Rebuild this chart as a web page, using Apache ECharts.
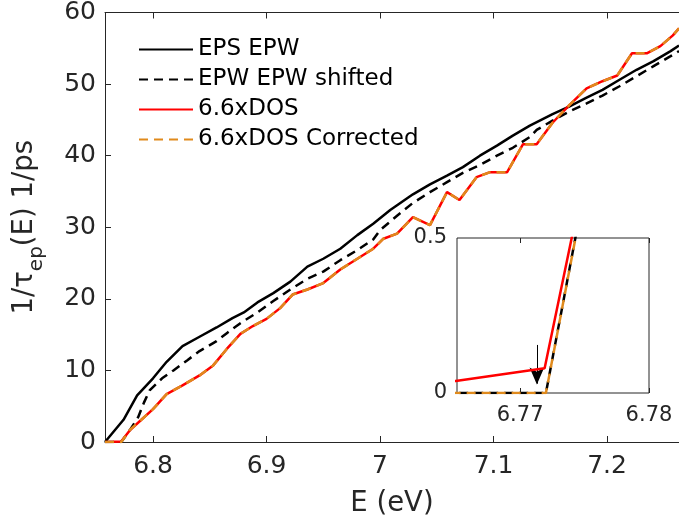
<!DOCTYPE html>
<html>
<head>
<meta charset="utf-8">
<title>Electron-phonon scattering rate</title>
<script src="https://cdn.jsdelivr.net/npm/echarts@6/dist/echarts.min.js"></script>
<style>
  html, body { margin: 0; padding: 0; background: #fff; }
  #chart { width: 679px; height: 525px; }
</style>
</head>
<body>
<div id="chart"></div>
<script>
// Scattering rate 1/tau_ep(E) in 1/ps against electron energy E in eV

// EPS EPW (solid black)
const epsEnergy = [6.7577, 6.774, 6.786, 6.800, 6.812, 6.826, 6.841, 6.856, 6.870, 6.880,
  6.892, 6.906, 6.921, 6.936, 6.950, 6.965, 6.980, 6.994, 7.009, 7.029, 7.044, 7.059,
  7.073, 7.088, 7.103, 7.117, 7.132, 7.152, 7.167, 7.182, 7.196, 7.211, 7.226, 7.241,
  7.256, 7.2634];
const epsRate = [0, 3.1, 6.5, 8.9, 11.2, 13.4, 14.7, 16.0, 17.3, 18.1,
  19.5, 20.8, 22.4, 24.5, 25.6, 27.0, 28.9, 30.5, 32.4, 34.6, 36.0, 37.2,
  38.4, 40.0, 41.4, 42.8, 44.2, 45.8, 46.9, 48.1, 49.2, 50.6, 52.0, 53.2,
  54.6, 55.4];

// EPW EPW shifted (dashed black)
const shiftEnergy = [6.7577, 6.772, 6.780, 6.787, 6.792, 6.797, 6.808, 6.818, 6.830, 6.841,
  6.856, 6.865, 6.877, 6.892, 6.906, 6.921, 6.936, 6.950, 6.965, 6.980, 6.994, 7.000,
  7.015, 7.029, 7.044, 7.059, 7.073, 7.088, 7.103, 7.117, 7.132, 7.138, 7.152, 7.167,
  7.182, 7.196, 7.211, 7.226, 7.241, 7.256, 7.2634];
const shiftRate = [0, 0, 1.75, 3.5, 5.5, 7.2, 8.9, 10.0, 11.4, 12.7,
  14.1, 15.2, 16.6, 18.1, 19.7, 21.3, 22.8, 23.8, 25.4, 26.8, 28.3, 29.6,
  31.6, 33.4, 34.9, 36.3, 37.6, 38.7, 40.0, 41.1, 42.6, 43.6, 44.9, 46.2,
  47.3, 48.4, 49.7, 51.1, 52.5, 53.9, 54.6];

// 6.6xDOS (solid red)
const dosEnergy = [6.7577, 6.765, 6.7719, 6.780, 6.789, 6.800, 6.812, 6.826, 6.841, 6.853,
  6.865, 6.877, 6.888, 6.900, 6.912, 6.923, 6.936, 6.950, 6.965, 6.980, 6.994,
  7.003, 7.015, 7.029, 7.044, 7.059, 7.070, 7.085, 7.097, 7.112, 7.126, 7.138,
  7.152, 7.167, 7.182, 7.196, 7.209, 7.222, 7.235, 7.247, 7.258, 7.2634];
const dosRate = [0, 0.039, 0.08, 1.7, 3.0, 4.6, 6.7, 7.9, 9.3, 10.7,
  13.0, 15.1, 16.2, 17.2, 18.7, 20.6, 21.3, 22.2, 24.1, 25.6, 27.0,
  28.4, 29.1, 31.4, 30.3, 34.9, 33.8, 37.0, 37.7, 37.7, 41.6, 41.6,
  44.6, 47.1, 49.4, 50.4, 51.2, 54.3, 54.3, 55.3, 56.8, 57.8];

// 6.6xDOS Corrected (dashed orange)
const corrEnergy = [6.7577, 6.772, 6.780, 6.789, 6.800, 6.812, 6.826, 6.841, 6.853,
  6.865, 6.877, 6.888, 6.900, 6.912, 6.923, 6.936, 6.950, 6.965, 6.980, 6.994,
  7.003, 7.015, 7.029, 7.044, 7.059, 7.070, 7.085, 7.097, 7.112, 7.126, 7.138,
  7.152, 7.167, 7.182, 7.196, 7.209, 7.222, 7.235, 7.247, 7.258, 7.2634];
const corrRate = [0, 0, 1.74, 3.0, 4.6, 6.7, 7.9, 9.3, 10.7,
  13.0, 15.1, 16.2, 17.2, 18.7, 20.6, 21.3, 22.2, 24.1, 25.6, 27.0,
  28.4, 29.1, 31.4, 30.3, 34.9, 33.8, 37.0, 37.7, 37.7, 41.6, 41.6,
  44.6, 47.1, 49.4, 50.4, 51.2, 54.3, 54.3, 55.3, 56.8, 57.8];

const seriesNames = ['EPS EPW', 'EPW EPW shifted', '6.6xDOS', '6.6xDOS Corrected'];

// Axis ticks
const energyTicks = [6.8, 6.9, 7, 7.1, 7.2];
const rateTicks = [0, 10, 20, 30, 40, 50, 60];
const insetEnergyTicks = [6.77, 6.78];
const insetRateTicks = [0, 0.5];

// Onset marker in the zoomed panel
const onsetEnergy = 6.7713;
const onsetArrowTop = 0.155;

const zip = (xs, ys) => xs.map((x, i) => [x, ys[i]]);

const INK = '#262626';
const FONT = 'DejaVu Sans';
const styles = [
  { color: '#000000', type: 'solid', insetOffset: 0 },
  { color: '#000000', type: [9, 6], insetOffset: 7.5 },
  { color: '#ff0000', type: 'solid', insetOffset: 0 },
  { color: '#e08a1c', type: [9, 6], insetOffset: 0 }
];
const datasets = [
  zip(epsEnergy, epsRate),
  zip(shiftEnergy, shiftRate),
  zip(dosEnergy, dosRate),
  zip(corrEnergy, corrRate)
];

// One set of lines per panel; the zoomed panel also carries the onset arrow
function makeSeries(xi, yi, isInset) {
  return datasets.map((d, k) => {
    const s = {
      name: seriesNames[k],
      type: 'line',
      xAxisIndex: xi,
      yAxisIndex: yi,
      data: d,
      symbol: 'none',
      showSymbol: false,
      clip: true,
      animation: false,
      silent: true,
      z: 3 + k,
      lineStyle: {
        color: styles[k].color, type: styles[k].type,
        dashOffset: isInset ? styles[k].insetOffset : 0,
        width: 2.5, cap: 'butt'
      },
      itemStyle: { color: styles[k].color }
    };
    if (isInset && k === 3) {
      // arrow stem
      s.markLine = {
        silent: true,
        animation: false,
        symbol: ['none', 'none'],
        label: { show: false },
        lineStyle: { color: '#000', width: 1, type: 'solid' },
        data: [[
          { coord: [onsetEnergy, onsetArrowTop] },
          { coord: [onsetEnergy, 0.03] }
        ]]
      };
      // arrow head, tip on the zero line
      s.markPoint = {
        silent: true,
        animation: false,
        symbol: 'arrow',
        symbolSize: [11, 17],
        symbolRotate: 180,
        symbolOffset: [0, -8.5],
        label: { show: false },
        itemStyle: { color: '#000' },
        data: [{ coord: [onsetEnergy, 0] }]
      };
    }
    return s;
  });
}

const chart = echarts.init(document.getElementById('chart'), null, { renderer: 'canvas' });

const mainX = {
  type: 'value', gridIndex: 0, min: 6.7577, max: 7.2634,
  splitLine: { show: false },
  axisLine: { show: true, onZero: false, lineStyle: { color: INK, width: 1 } },
  axisTick: { show: true, inside: true, length: 6, customValues: energyTicks, lineStyle: { color: INK } },
  axisLabel: { show: true, customValues: energyTicks, margin: 12, color: INK, fontFamily: FONT, fontSize: 25 }
};

chart.setOption({
  backgroundColor: '#ffffff',
  animation: false,
  textStyle: { fontFamily: FONT },
  legend: {
    data: seriesNames,
    orient: 'vertical',
    left: 138,
    top: 38,
    padding: 0,
    itemWidth: 54,
    itemHeight: 14,
    itemGap: 7,
    selectedMode: false,
    itemStyle: { opacity: 0 },
    textStyle: { color: '#000', fontFamily: FONT, fontSize: 23 }
  },
  grid: [
    { left: 105, top: 9, right: 0, bottom: 83, containLabel: false },
    { left: 457, top: 238, width: 192, height: 155, show: true, backgroundColor: '#ffffff',
      borderColor: INK, borderWidth: 1 }
  ],
  xAxis: [
    Object.assign({}, mainX, {
      position: 'bottom',
      name: 'E (eV)', nameLocation: 'middle', nameGap: 48,
      nameTextStyle: { color: INK, fontFamily: FONT, fontSize: 27.5 }
    }),
    Object.assign({}, mainX, { position: 'top', axisLabel: { show: false } }),
    {
      type: 'value', gridIndex: 1, min: 6.7651, max: 6.78, position: 'bottom',
      splitLine: { show: false },
      axisLine: { show: false },
      axisTick: { show: true, inside: true, length: 5, customValues: insetEnergyTicks, lineStyle: { color: INK } },
      axisLabel: { show: true, customValues: insetEnergyTicks, margin: 12, color: INK, fontFamily: FONT, fontSize: 21 }
    },
    {
      type: 'value', gridIndex: 1, min: 6.7651, max: 6.78, position: 'top',
      splitLine: { show: false },
      axisLine: { show: false },
      axisTick: { show: true, inside: true, length: 5, customValues: insetEnergyTicks, lineStyle: { color: INK } },
      axisLabel: { show: false }
    }
  ],
  yAxis: [
    {
      type: 'value', gridIndex: 0, min: 0, max: 60, interval: 10,
      splitLine: { show: false },
      axisLine: { show: true, onZero: false, lineStyle: { color: INK, width: 1 } },
      axisTick: { show: true, inside: true, length: 6, customValues: rateTicks, lineStyle: { color: INK } },
      axisLabel: { show: true, customValues: rateTicks, margin: 9, color: INK, fontFamily: FONT, fontSize: 25 },
      name: '{a|1/τ}{s|ep}{a|(E) 1/ps}',
      nameLocation: 'middle',
      nameGap: 58,
      nameRotate: 90,
      nameTextStyle: {
        color: INK,
        rich: {
          a: { fontFamily: FONT, fontSize: 27.5, color: INK, lineHeight: 36, verticalAlign: 'top' },
          s: { fontFamily: FONT, fontSize: 20, color: INK, lineHeight: 20, verticalAlign: 'bottom' }
        }
      }
    },
    {
      type: 'value', gridIndex: 1, min: 0, max: 0.5, interval: 0.5,
      splitLine: { show: false },
      axisLine: { show: false },
      axisTick: { show: false },
      axisLabel: { show: true, customValues: insetRateTicks, margin: 10, color: INK, fontFamily: FONT, fontSize: 21 }
    }
  ],
  series: makeSeries(0, 0, false).concat(makeSeries(2, 1, true))
});
</script>
</body>
</html>
